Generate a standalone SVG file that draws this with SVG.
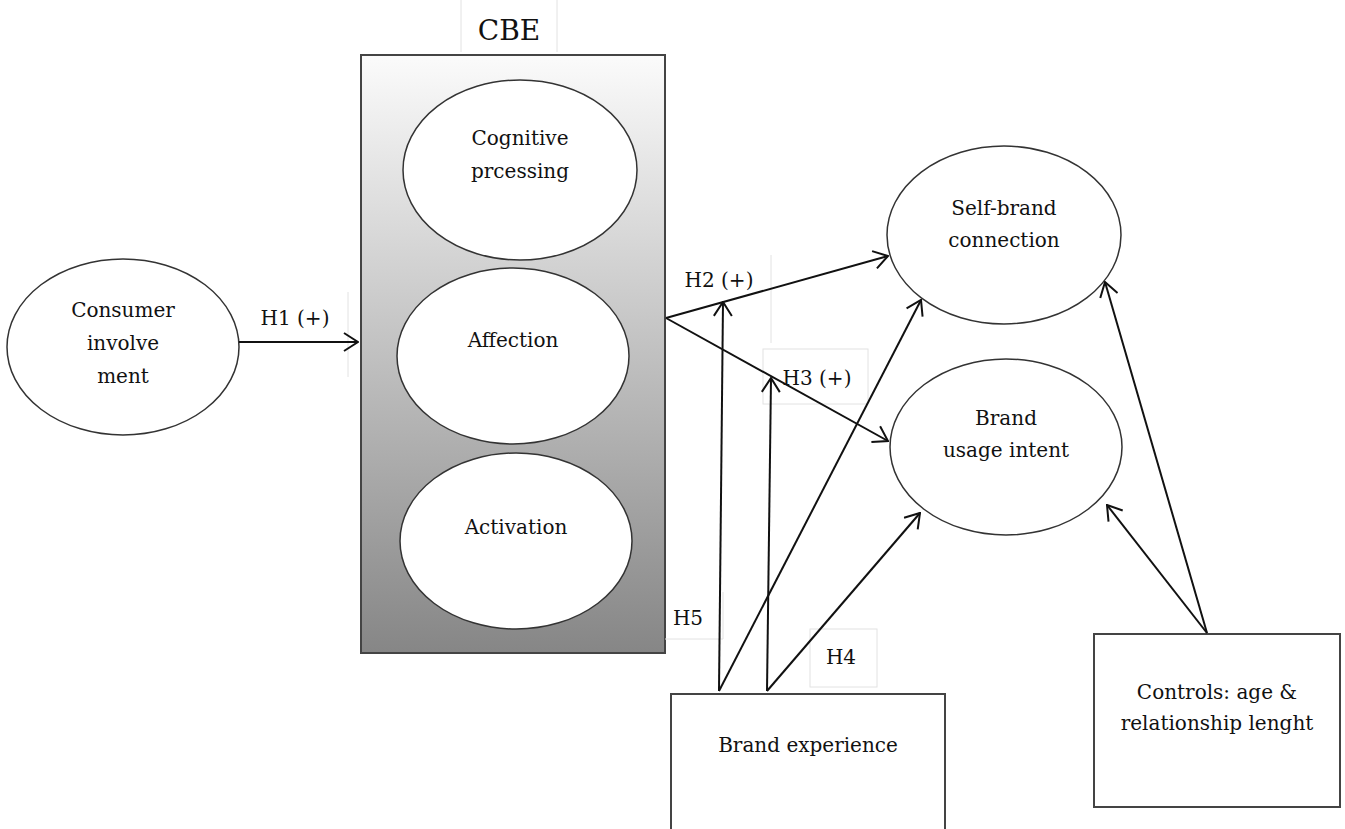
<svg xmlns="http://www.w3.org/2000/svg" width="1345" height="829" viewBox="0 0 1345 829">
<defs>
<linearGradient id="cbeGrad" x1="0" y1="0" x2="0" y2="1">
<stop offset="0" stop-color="#fbfbfb"/>
<stop offset="1" stop-color="#868686"/>
</linearGradient>
<marker id="arr" viewBox="0 0 16 20" refX="15" refY="10" markerWidth="16" markerHeight="20" markerUnits="userSpaceOnUse" orient="auto">
<path d="M1,1 L15,10 L1,19" fill="none" stroke="#111" stroke-width="2"/>
</marker>
</defs>
<style>
text{font-family:"DejaVu Serif","Liberation Serif",serif;font-size:20px;fill:#111;text-anchor:middle}
.node{fill:#fff;stroke:#333;stroke-width:1.5}
.box{fill:#fff;stroke:#444;stroke-width:2}
.conn{fill:none;stroke:#111;stroke-width:2;marker-end:url(#arr)}
.line{fill:none;stroke:#111;stroke-width:2}
.faint{fill:none;stroke:#e2e2e2;stroke-width:1}
</style>
<rect width="1345" height="829" fill="#fff"/>

<g id="cbe-label">
<path class="faint" d="M461,0 V52 M557,0 V52"/>
<text x="509" y="40" style="font-size:28px">CBE</text>
</g>

<g id="cbe">
<rect x="361" y="55" width="304" height="598" fill="url(#cbeGrad)" stroke="#444" stroke-width="2"/>
</g>

<g id="cognitive">
<ellipse class="node" cx="520" cy="170" rx="117" ry="90"/>
<text x="520" y="145">Cognitive</text>
<text x="520" y="178">prcessing</text>
</g>

<g id="affection">
<ellipse class="node" cx="513" cy="356" rx="116" ry="88"/>
<text x="513" y="347">Affection</text>
</g>

<g id="activation">
<ellipse class="node" cx="516" cy="541" rx="116" ry="88"/>
<text x="516" y="534">Activation</text>
</g>

<g id="consumer-involvement">
<ellipse class="node" cx="123" cy="347" rx="116" ry="88"/>
<text x="123" y="317">Consumer</text>
<text x="123" y="350">involve</text>
<text x="123" y="383">ment</text>
</g>

<g id="self-brand">
<ellipse class="node" cx="1004" cy="235" rx="117" ry="89"/>
<text x="1004" y="215">Self-brand</text>
<text x="1004" y="247">connection</text>
</g>

<g id="brand-usage">
<ellipse class="node" cx="1006" cy="447" rx="116" ry="88"/>
<text x="1006" y="425">Brand</text>
<text x="1006" y="457">usage intent</text>
</g>

<g id="brand-experience">
<rect class="box" x="671" y="694" width="274" height="140"/>
<text x="808" y="752">Brand experience</text>
</g>

<g id="controls">
<rect class="box" x="1094" y="634" width="246" height="173"/>
<text x="1217" y="699">Controls: age &amp;</text>
<text x="1217" y="730">relationship lenght</text>
</g>

<g id="labels">
<path class="faint" d="M348,292 V377"/>
<text x="295" y="325">H1 (+)</text>
<path class="faint" d="M771,255 V343"/>
<text x="719" y="287">H2 (+)</text>
<rect class="faint" x="763" y="349" width="105" height="55"/>
<text x="817" y="385">H3 (+)</text>
<path class="faint" d="M665,639 H723 V592"/>
<text x="688" y="625">H5</text>
<rect class="faint" x="810" y="629" width="67" height="58"/>
<text x="841" y="664">H4</text>
</g>

<g id="connectors">
<line class="conn" x1="239" y1="342" x2="358" y2="342"/>
<line class="conn" x1="666" y1="318" x2="888" y2="256"/>
<line class="conn" x1="666" y1="318" x2="888" y2="441"/>
<line class="conn" x1="719" y1="691" x2="723" y2="302"/>
<line class="conn" x1="767" y1="691" x2="771" y2="378"/>
<line class="conn" x1="719" y1="691" x2="921" y2="300"/>
<line class="conn" x1="767" y1="691" x2="920" y2="513"/>
<line class="conn" x1="1207" y1="633" x2="1105" y2="282"/>
<line class="conn" x1="1207" y1="633" x2="1107" y2="505"/>
</g>
</svg>
